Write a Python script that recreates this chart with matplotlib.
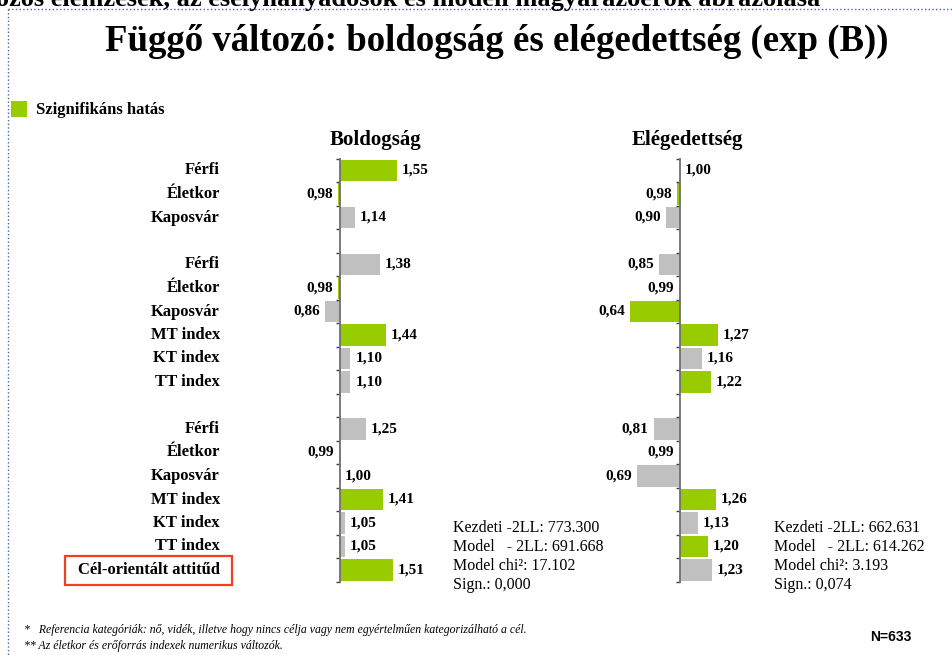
import matplotlib.pyplot as plt
import matplotlib.transforms as mtransforms
from matplotlib.patches import Rectangle
from matplotlib.lines import Line2D

plt.rcParams['font.family'] = ['Liberation Serif', 'DejaVu Serif']

# data (exp(B) values), None = blank separator row
categories = ['Férfi', 'Életkor', 'Kaposvár', '',
              'Férfi', 'Életkor', 'Kaposvár', 'MT index', 'KT index', 'TT index', '',
              'Férfi', 'Életkor', 'Kaposvár', 'MT index', 'KT index', 'TT index',
              'Cél-orientált attitűd']
boldogsag = [1.55, 0.98, 1.14, None,
             1.38, 0.98, 0.86, 1.44, 1.10, 1.10, None,
             1.25, 0.99, 1.00, 1.41, 1.05, 1.05, 1.51]
boldogsag_sig = [1, 1, 0, 0,
                 0, 1, 0, 1, 0, 0, 0,
                 0, 0, 0, 1, 0, 0, 1]
elegedettseg = [1.00, 0.98, 0.90, None,
                0.85, 0.99, 0.64, 1.27, 1.16, 1.22, None,
                0.81, 0.99, 0.69, 1.26, 1.13, 1.20, 1.23]
elegedettseg_sig = [0, 1, 0, 0,
                    0, 1, 1, 1, 0, 1, 0,
                    0, 0, 0, 1, 0, 1, 0]
stats_b = ['Kezdeti -2LL: 773.300', 'Model   - 2LL: 691.668',
           'Model chi²: 17.102', 'Sign.: 0,000']
stats_e = ['Kezdeti -2LL: 662.631', 'Model   - 2LL: 614.262',
           'Model chi²: 3.193', 'Sign.: 0,074']

GREEN = '#99CC00'
GREY = '#C0C0C0'
W, H = 953, 655

fig = plt.figure(figsize=(W / 100, H / 100), dpi=100)


def fx(x):
    return x / W


def fy(y):
    return 1 - y / H


def rect(left, top, right, bottom):
    return [fx(left), fy(bottom), (right - left) / W, (bottom - top) / H]


def panel(left, right, xlim, values, sig, title, title_x):
    ax = fig.add_axes(rect(left, 158.75, right, 581.75))
    ax.set_xlim(*xlim)
    ax.set_ylim(len(values) - 0.5, -0.5)
    for s in ['top', 'right', 'bottom']:
        ax.spines[s].set_visible(False)
    ax.spines['left'].set_position(('data', 1.0))
    ax.spines['left'].set_color('#707070')
    ax.spines['left'].set_linewidth(1.3)
    ax.set_xticks([])
    ax.set_yticks([])
    ax.set_yticks([i - 0.5 for i in range(len(values) + 1)], minor=True)
    ax.tick_params(axis='y', which='minor', direction='out', length=3,
                   width=1, color='#404040')
    ax.patch.set_alpha(0)
    for i, v in enumerate(values):
        if v is None:
            continue
        c = GREEN if sig[i] else GREY
        ax.barh(i, v - 1.0, left=1.0, height=0.93, color=c, linewidth=0)
        txt = f'{v:.2f}'.replace('.', ',')
        if v < 1:
            ax.annotate(txt, (v, i), xytext=(-3.5, 0), textcoords='offset points',
                        ha='right', va='center', fontsize=11, fontweight='bold')
        else:
            ax.annotate(txt, (v, i), xytext=(3.5, 0), textcoords='offset points',
                        ha='left', va='center', fontsize=11, fontweight='bold')
    fig.text(fx(title_x), fy(140), title, ha='center', va='center',
             fontsize=15, fontweight='bold')
    return ax


axb = panel(290, 430, (1 - 50 / 104, 1 + 90 / 104), boldogsag, boldogsag_sig,
            'Boldogság', 376)
axe = panel(600, 760, (1 - 80 / 139, 1 + 80 / 139), elegedettseg, elegedettseg_sig,
            'Elégedettség', 687)

# category labels
tr = mtransforms.blended_transform_factory(fig.transFigure, axb.transData)
for i, c in enumerate(categories):
    if not c:
        continue
    if i == len(categories) - 1:
        axb.text(fx(149), i, c, transform=tr, ha='center', va='center',
                 fontsize=12, fontweight='bold')
    else:
        axb.text(fx(220), i, c, transform=tr, ha='right', va='center',
                 fontsize=12, fontweight='bold')
fig.patches.append(Rectangle((fx(65), fy(585)), (232 - 65) / W, (585 - 556) / H,
                             transform=fig.transFigure, fill=False,
                             edgecolor='#F04020', linewidth=1.6))

# model statistics
for k, line in enumerate(stats_b):
    fig.text(fx(453), fy(528 + 19 * k), line, ha='left', va='center', fontsize=11.5)
for k, line in enumerate(stats_e):
    fig.text(fx(774), fy(528 + 19 * k), line, ha='left', va='center', fontsize=11.5)

# titles (the top line is cut off by the slide edge in the original)
fig.text(fx(820), fy(6), 'Többváltozós elemzések, az esélyhányadosok és modell magyarázóerők ábrázolása',
         ha='right', va='baseline', fontsize=19, fontweight='bold')
fig.text(fx(497), fy(41), 'Függő változó: boldogság és elégedettség (exp (B))',
         ha='center', va='center', fontsize=26.5, fontweight='bold')

# legend
fig.patches.append(Rectangle((fx(11), fy(117)), 16 / W, 16 / H,
                             transform=fig.transFigure, color=GREEN, linewidth=0))
fig.text(fx(36), fy(110), 'Szignifikáns hatás', ha='left', va='center',
         fontsize=12, fontweight='bold')

# footnotes
fig.text(fx(24), fy(630), '*   Referencia kategóriák: nő, vidék, illetve hogy nincs célja vagy nem egyértelműen kategorizálható a cél.',
         ha='left', va='center', fontsize=8.5, fontstyle='italic')
fig.text(fx(24), fy(646), '** Az életkor és erőforrás indexek numerikus változók.',
         ha='left', va='center', fontsize=8.5, fontstyle='italic')
fig.text(fx(870), fy(637), 'N=633', ha='left', va='center', fontsize=10,
         fontweight='bold', family='Liberation Sans')

# dotted frame
fig.lines.append(Line2D([fx(8), 1], [fy(9), fy(9)], transform=fig.transFigure,
                        color='#5060B0', linestyle=':', linewidth=1))
fig.lines.append(Line2D([fx(8), fx(8)], [fy(9), 0], transform=fig.transFigure,
                        color='#5060B0', linestyle=':', linewidth=1))

fig.savefig('out.png', dpi=100)
